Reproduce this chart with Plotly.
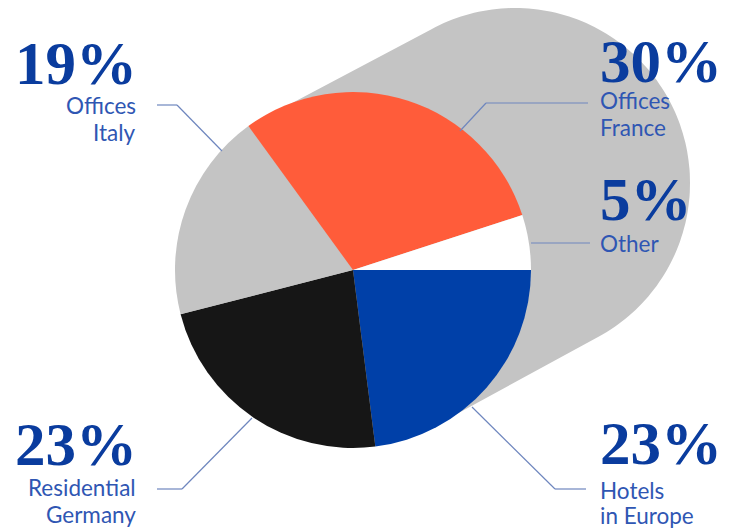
import numpy as np
import plotly.graph_objects as go

# ---- data ----
segments = ["Hotels in Europe", "Residential Germany", "Offices Italy", "Offices France", "Other"]
shares = [23, 23, 19, 30, 5]
label_lines = [["Hotels", "in Europe"], ["Residential", "Germany"], ["Offices", "Italy"], ["Offices", "France"], ["Other"]]

# ---- styles ----
slice_colors = ["#0040A8", "#161616", "#C4C4C4", "#FF5C3A", "#FFFFFF"]
NUM_COLOR = "#0A3C9E"
TXT_COLOR = "#2F56B3"
LINE_COLOR = "#6E86BE"
W, H = 731, 531
cx, cy, R = 353, 270, 178

fig = go.Figure()

fig.add_trace(go.Pie(
    labels=segments, values=shares, sort=False, direction="clockwise", rotation=90,
    marker=dict(colors=slice_colors, line=dict(width=0)),
    textinfo="none", hoverinfo="label+percent", showlegend=False,
    domain=dict(x=[(cx - R) / W, (cx + R) / W], y=[1 - (cy + R) / H, 1 - (cy - R) / H]),
))

# ---- grey backdrop (capsule behind the pie) ----
def circle_pts(x0, y0, r, n=240):
    t = np.linspace(0, 2 * np.pi, n, endpoint=False)
    return [(x0 + r * np.cos(a), y0 + r * np.sin(a)) for a in t]

pts = sorted(set(circle_pts(cx, cy, R - 2) + circle_pts(515, 183, 175)))

def cross(o, a, b):
    return (a[0] - o[0]) * (b[1] - o[1]) - (a[1] - o[1]) * (b[0] - o[0])

lower, upper = [], []
for p in pts:
    while len(lower) >= 2 and cross(lower[-2], lower[-1], p) <= 0:
        lower.pop()
    lower.append(p)
for p in reversed(pts):
    while len(upper) >= 2 and cross(upper[-2], upper[-1], p) <= 0:
        upper.pop()
    upper.append(p)
hull = lower[:-1] + upper[:-1]
path = "M " + " L ".join(f"{x:.1f},{y:.1f}" for x, y in hull) + " Z"

shapes = [dict(type="path", path=path, xref="x", yref="y", fillcolor="#C4C4C4",
               line=dict(width=0), layer="below")]

# ---- leader lines ----
leaders = [
    [(472, 407), (555, 489), (586, 489)],   # Hotels
    [(252, 418), (182, 489), (157, 489)],   # Residential
    [(222, 151), (177, 105), (157, 105)],   # Italy
    [(460, 131), (486, 103), (588, 103)],   # France
    [(531, 243), (590, 243)],               # Other
]
for seg in leaders:
    for (x0, y0), (x1, y1) in zip(seg[:-1], seg[1:]):
        shapes.append(dict(type="line", xref="x", yref="y", x0=x0, y0=y0, x1=x1, y1=y1,
                           line=dict(color=LINE_COLOR, width=1.2), layer="above"))

# ---- labels ----
# (number x, number anchor, number baseline y, text x, text anchor, cap-top y of each line)
label_pos = [
    (598, "left", 465, 598, "left", [483, 508]),      # Hotels
    (13, "left", 466, 138, "right", [480, 507]),      # Residential
    (13, "left", 85, 138, "right", [98, 125]),        # Italy
    (598, "left", 83, 598, "left", [93, 120]),        # France
    (598, "left", 221, 598, "left", [236]),           # Other
]
annotations = []
for share, lines, (nx, nanc, ny, tx, tanc, tys) in zip(shares, label_lines, label_pos):
    annotations.append(dict(
        x=nx, y=ny, xref="x", yref="y", xanchor=nanc, yanchor="bottom",
        text=f"<b>{share}%</b>", showarrow=False,
        font=dict(family="Liberation Serif", size=61, color=NUM_COLOR),
        yshift=-14,
    ))
    for line, ty in zip(lines, tys):
        annotations.append(dict(
            x=tx, y=ty, xref="x", yref="y", xanchor=tanc, yanchor="top",
            text=line, showarrow=False, align=tanc, yshift=8,
            font=dict(family="Lato", size=22.5, color=TXT_COLOR),
        ))

fig.update_layout(
    width=W, height=H, margin=dict(l=0, r=0, t=0, b=0),
    paper_bgcolor="white", plot_bgcolor="rgba(0,0,0,0)",
    xaxis=dict(range=[0, W], visible=False, fixedrange=True),
    yaxis=dict(range=[H, 0], visible=False, fixedrange=True),
    shapes=shapes, annotations=annotations, showlegend=False,
)

fig.write_html("out.html")
